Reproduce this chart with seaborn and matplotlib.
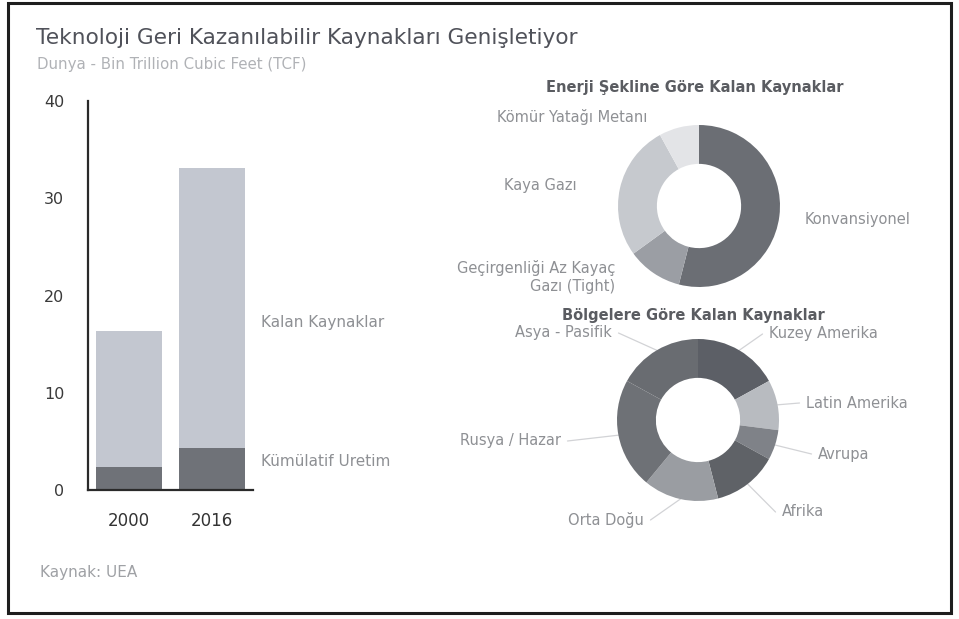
import numpy as np
import pandas as pd
import matplotlib
matplotlib.use("Agg")
import matplotlib.pyplot as plt
from matplotlib.patches import Rectangle
import seaborn as sns

# veriler
years = ["2000", "2016"]
kumulatif = [2.4, 4.3]
kalan = [14.0, 28.8]

enerji_labels = ["Konvansiyonel", "Geçirgenliği Az Kayaç\nGazı (Tight)", "Kaya Gazı", "Kömür Yatağı Metanı"]
enerji_values = [54, 11, 27, 8]
enerji_colors = ["#6b6e74", "#9b9ea4", "#c6c9ce", "#e3e4e7"]

bolge_labels = ["Kuzey Amerika", "Latin Amerika", "Avrupa", "Afrika", "Orta Doğu", "Rusya / Hazar", "Asya - Pasifik"]
bolge_values = [17, 10, 6, 13, 15, 22, 17]
bolge_colors = ["#5c5f66", "#b8bbc0", "#7f8288", "#5f6267", "#9a9da2", "#6e7176", "#696c71"]

W, H = 959, 619
sns.set_style("white")
plt.rcParams["font.family"] = ["DejaVu Sans"]

fig = plt.figure(figsize=(W / 100, H / 100), dpi=100)


def fx(x):
    return x / W


def fy(y):
    return 1 - y / H


# cerceve
fig.patches.append(Rectangle((fx(8), fy(613)), fx(943), 610 / H, transform=fig.transFigure,
                             fill=False, edgecolor="#1e1e1e", linewidth=2.2))

# basliklar
fig.text(fx(36), fy(38), "Teknoloji Geri Kazanılabilir Kaynakları Genişletiyor",
         fontsize=15.6, color="#50525a", va="center", ha="left")
fig.text(fx(37), fy(65), "Dunya - Bin Trillion Cubic Feet (TCF)", fontsize=10.8,
         color="#b0b2b6", va="center", ha="left")
fig.text(fx(40), fy(573), "Kaynak: UEA", fontsize=11, color="#9fa1a5", va="center", ha="left")

# bar grafigi
ax = fig.add_axes([fx(88), fy(490), fx(253 - 88), (490 - 101) / H])
df = pd.DataFrame({"Yil": years, "Toplam": np.array(kumulatif) + np.array(kalan), "Kumulatif": kumulatif})
sns.barplot(data=df, x="Yil", y="Toplam", color="#c3c7d0", saturation=1, width=0.8, linewidth=0, ax=ax)
sns.barplot(data=df, x="Yil", y="Kumulatif", color="#6f7278", saturation=1, width=0.8, linewidth=0, ax=ax)
ax.set_xlim(-0.5, 1.5)
ax.set_ylim(0, 40)
ax.set_yticks([0, 10, 20, 30, 40])
ax.set_xlabel("")
ax.set_ylabel("")
sns.despine(ax=ax)
for s in ["left", "bottom"]:
    ax.spines[s].set_color("#2a2a2a")
    ax.spines[s].set_linewidth(1.6)
ax.tick_params(axis="y", length=0, pad=17, labelsize=11.5, labelcolor="#3a3a3a")
ax.tick_params(axis="x", length=0, pad=16, labelsize=12, labelcolor="#333333")

fig.text(fx(261), fy(323), "Kalan Kaynaklar", fontsize=11, color="#8e9094", va="center")
fig.text(fx(261), fy(462), "Kümülatif Uretim", fontsize=11, color="#8e9094", va="center")


def donut_ax(cx, cy, r, left, top, right, bottom):
    a = fig.add_axes([fx(left), fy(bottom), fx(right - left), (bottom - top) / H])
    a.set_axis_off()
    return a


def p2d(px, py, cx, cy, r):
    return (px - cx) / r, (cy - py) / r


# enerji donut
c1x, c1y, r1 = 699, 206, 81
box1 = (420, 78, 955, 300)
ax1 = donut_ax(c1x, c1y, r1, *box1)
ax1.pie(enerji_values, colors=enerji_colors, startangle=90, counterclock=False,
        wedgeprops=dict(width=0.48, edgecolor="none"))
ax1.set_aspect("auto")
ax1.set_xlim((box1[0] - c1x) / r1, (box1[2] - c1x) / r1)
ax1.set_ylim((c1y - box1[3]) / r1, (c1y - box1[1]) / r1)
ax1.text(*p2d(695, 87, c1x, c1y, r1), "Enerji Şekline Göre Kalan Kaynaklar", fontsize=10.5,
         fontweight="bold", color="#5a5c61", ha="center", va="center")
enerji_pos = [(805, 219, "left"), (615, 277, "right"), (577, 185, "right"), (647, 117, "right")]
for lab, (px, py, ha) in zip(enerji_labels, enerji_pos):
    ax1.text(*p2d(px, py, c1x, c1y, r1), lab, fontsize=10.5, color="#8e9094", ha=ha, va="center",
             multialignment="right", linespacing=1.2)

# bolge donut
c2x, c2y, r2 = 698, 420, 81
box2 = (420, 305, 955, 540)
ax2 = donut_ax(c2x, c2y, r2, *box2)
wedges, _ = ax2.pie(bolge_values, colors=bolge_colors, startangle=90, counterclock=False,
                    wedgeprops=dict(width=0.48, edgecolor="none"))
ax2.set_aspect("auto")
ax2.set_xlim((box2[0] - c2x) / r2, (box2[2] - c2x) / r2)
ax2.set_ylim((c2y - box2[3]) / r2, (c2y - box2[1]) / r2)
ax2.text(*p2d(693, 316, c2x, c2y, r2), "Bölgelere Göre Kalan Kaynaklar", fontsize=10.5,
         fontweight="bold", color="#5a5c61", ha="center", va="center")
bolge_pos = [(769, 334, "left"), (806, 403, "left"), (818, 454, "left"), (782, 512, "left"),
             (644, 520, "right"), (561, 441, "right"), (612, 333, "right")]
for w, lab, (px, py, ha) in zip(wedges, bolge_labels, bolge_pos):
    ang = np.deg2rad((w.theta1 + w.theta2) / 2)
    sx, sy = np.cos(ang), np.sin(ang)
    tx, ty = p2d(px, py, c2x, c2y, r2)
    ex = tx - 0.08 if ha == "left" else tx + 0.08
    ax2.plot([sx, ex], [sy, ty], color="#d2d3d6", linewidth=0.9, zorder=0)
    ax2.text(tx, ty, lab, fontsize=10.5, color="#8e9094", ha=ha, va="center")

fig.savefig("out.png", dpi=100, facecolor="white")
